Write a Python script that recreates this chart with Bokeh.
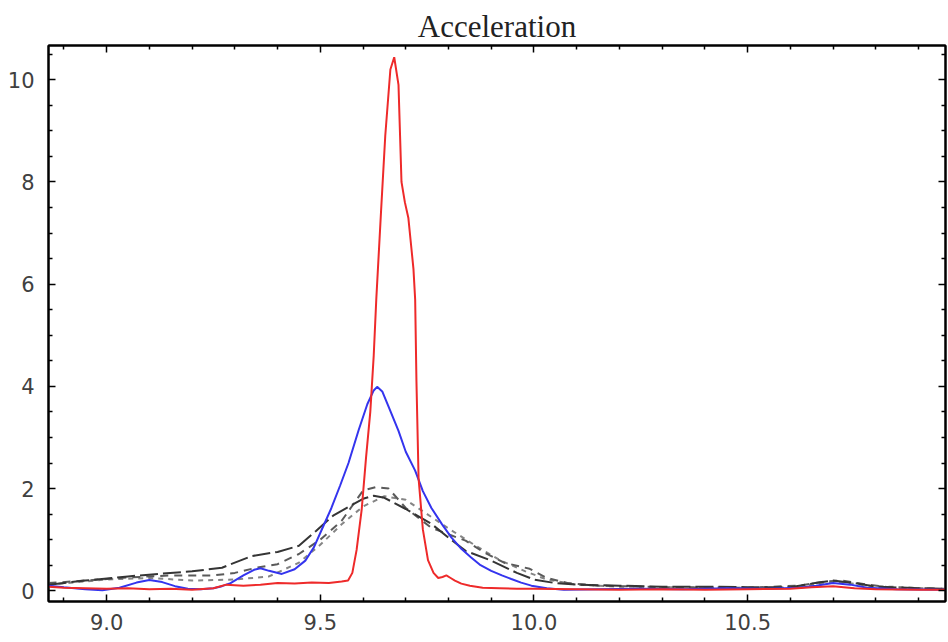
from bokeh.plotting import figure
from bokeh.models import LinearAxis, FixedTicker, Range1d
from bokeh.embed import file_html
from bokeh.resources import INLINE

# ---- data ----
x_ticks = [9.0, 9.5, 10.0, 10.5]
x_tick_labels = ["9.0", "9.5", "10.0", "10.5"]
x_minor = [8.9, 9.1, 9.2, 9.3, 9.4, 9.6, 9.7, 9.8, 9.9, 10.1, 10.2, 10.3, 10.4, 10.6, 10.7, 10.8, 10.9]
y_ticks = [0, 2, 4, 6, 8, 10]
y_tick_labels = ["0", "2", "4", "6", "8", "10"]
y_minor = [-0.5, 0.5, 1, 1.5, 2.5, 3, 3.5, 4.5, 5, 5.5, 6.5, 7, 7.5, 8.5, 9, 9.5, 10.5]

red_x = [8.864, 8.9, 8.95, 9.0, 9.05, 9.1, 9.15, 9.2, 9.25, 9.28, 9.32, 9.36, 9.4, 9.44, 9.48,
         9.52, 9.55, 9.565, 9.575, 9.585, 9.597, 9.607, 9.617, 9.625, 9.631, 9.642, 9.652,
         9.664, 9.673, 9.683, 9.69, 9.698, 9.706, 9.712, 9.718, 9.722, 9.725, 9.73, 9.74,
         9.752, 9.765, 9.776, 9.786, 9.795, 9.805, 9.815, 9.83, 9.85, 9.88, 9.92, 9.96, 10.0,
         10.1, 10.2, 10.3, 10.4, 10.5, 10.6, 10.65, 10.7, 10.75, 10.8, 10.9, 10.963]
red_y = [0.08, 0.06, 0.05, 0.04, 0.05, 0.03, 0.04, 0.02, 0.05, 0.12, 0.1, 0.12, 0.15, 0.14, 0.16,
         0.15, 0.18, 0.2, 0.35, 0.8, 1.6, 2.6, 3.5, 4.6, 5.7, 7.4, 8.9,
         10.2, 10.44, 9.9, 8.0, 7.6, 7.3, 6.8, 6.3, 5.7, 4.1, 2.2, 1.2,
         0.6, 0.35, 0.25, 0.27, 0.3, 0.25, 0.2, 0.14, 0.1, 0.06, 0.05, 0.04, 0.04,
         0.03, 0.02, 0.03, 0.02, 0.03, 0.04, 0.07, 0.09, 0.05, 0.03, 0.02, 0.02]

blue_x = [8.864, 8.9, 8.95, 8.99, 9.03, 9.07, 9.1, 9.13, 9.16, 9.19, 9.22, 9.25, 9.27, 9.29,
          9.32, 9.345, 9.36, 9.38, 9.41, 9.44, 9.465, 9.485, 9.502, 9.526, 9.546, 9.566, 9.59,
          9.61, 9.625, 9.633, 9.645, 9.66, 9.683, 9.7, 9.722, 9.74, 9.76, 9.785, 9.807, 9.83,
          9.853, 9.875, 9.9, 9.925, 9.947, 9.97, 9.994, 10.03, 10.07, 10.15, 10.25, 10.35,
          10.45, 10.55, 10.62, 10.66, 10.7, 10.74, 10.78, 10.85, 10.963]
blue_y = [0.1, 0.07, 0.03, 0.01, 0.06, 0.16, 0.21, 0.17, 0.09, 0.04, 0.03, 0.05, 0.09, 0.15,
          0.3, 0.41, 0.44, 0.39, 0.33, 0.42, 0.59, 0.85, 1.17, 1.62, 2.05, 2.5, 3.15,
          3.65, 3.92, 3.99, 3.9, 3.6, 3.13, 2.72, 2.35, 1.95, 1.62, 1.3, 1.04, 0.82,
          0.65, 0.5, 0.39, 0.3, 0.23, 0.16, 0.1, 0.05, 0.02, 0.03, 0.04, 0.03,
          0.05, 0.04, 0.06, 0.1, 0.15, 0.12, 0.06, 0.03, 0.02]

dark_x = [8.864, 8.95, 9.05, 9.12, 9.2, 9.27, 9.3, 9.34, 9.4, 9.45, 9.49, 9.53, 9.57, 9.6,
          9.625, 9.65, 9.7, 9.76, 9.8, 9.84, 9.9, 9.96, 10.0, 10.05, 10.1, 10.2, 10.3, 10.4,
          10.5, 10.6, 10.65, 10.7, 10.75, 10.8, 10.9, 10.963]
dark_y = [0.12, 0.2, 0.28, 0.33, 0.38, 0.45, 0.55, 0.68, 0.76, 0.88, 1.17, 1.47, 1.66, 1.8,
          1.86, 1.82, 1.6, 1.31, 1.04, 0.78, 0.59, 0.35, 0.22, 0.15, 0.12, 0.1, 0.08, 0.08,
          0.07, 0.07, 0.14, 0.2, 0.15, 0.08, 0.05, 0.04]

mid_x = [8.864, 8.95, 9.05, 9.15, 9.25, 9.3, 9.35, 9.4, 9.45, 9.5, 9.55, 9.6, 9.63, 9.66, 9.7,
         9.76, 9.84, 9.89, 9.93, 9.99, 10.03, 10.08, 10.15, 10.3, 10.5, 10.62, 10.68, 10.72,
         10.78, 10.85, 10.963]
mid_y = [0.15, 0.2, 0.26, 0.3, 0.3, 0.35, 0.45, 0.52, 0.72, 1.0, 1.37, 1.96, 2.03, 2.0, 1.62,
         1.23, 0.98, 0.72, 0.55, 0.43, 0.25, 0.15, 0.1, 0.07, 0.06, 0.1, 0.18, 0.2,
         0.12, 0.05, 0.04]

light_x = [8.864, 9.0, 9.1, 9.2, 9.3, 9.38, 9.45, 9.5, 9.55, 9.6, 9.65, 9.7, 9.75, 9.8, 9.86,
           9.92, 9.98, 10.03, 10.1, 10.2, 10.4, 10.6, 10.68, 10.72, 10.78, 10.963]
light_y = [0.12, 0.22, 0.25, 0.2, 0.22, 0.28, 0.55, 0.9, 1.3, 1.65, 1.85, 1.78, 1.5, 1.22, 0.9,
           0.6, 0.38, 0.22, 0.12, 0.08, 0.06, 0.06, 0.15, 0.17, 0.1, 0.03]

# ---- figure ----
p = figure(width=948, height=642, output_backend="svg", toolbar_location=None,
           x_range=Range1d(8.864, 10.963), y_range=Range1d(-0.21, 10.67),
           min_border_left=48, min_border_right=3, min_border_top=45, min_border_bottom=41,
           title="Acceleration")
p.xgrid.visible = False
p.ygrid.visible = False
p.outline_line_color = "black"
p.outline_line_width = 2
p.background_fill_color = "white"
p.border_fill_color = "white"

p.title.text_font = "Liberation Serif"
p.title.text_font_size = "31px"
p.title.text_font_style = "normal"
p.title.text_color = "#222222"
p.title.align = "center"
p.title.standoff = 4

xt = FixedTicker(ticks=x_ticks, minor_ticks=x_minor)
yt = FixedTicker(ticks=y_ticks, minor_ticks=y_minor)

top = LinearAxis(ticker=xt)
right = LinearAxis(ticker=yt)
p.add_layout(top, "above")
p.add_layout(right, "right")

for ax in p.xaxis:
    ax.ticker = xt
for ax in p.yaxis:
    ax.ticker = yt

for ax in list(p.xaxis) + list(p.yaxis):
    ax.axis_line_color = "black"
    ax.axis_line_width = 2
    ax.major_tick_in = 7
    ax.major_tick_out = 0
    ax.minor_tick_in = 4
    ax.minor_tick_out = 0
    ax.major_tick_line_color = "black"
    ax.major_tick_line_width = 1.5
    ax.minor_tick_line_color = "black"
    ax.minor_tick_line_width = 1.5
    ax.major_label_text_font = "DejaVu Sans"
    ax.major_label_text_font_size = "21px"
    ax.major_label_text_color = "#404040"

p.below[0].major_label_overrides = dict(zip(x_ticks, x_tick_labels))
p.below[0].major_label_standoff = 12
p.left[0].major_label_overrides = dict(zip(y_ticks, y_tick_labels))
p.left[0].major_label_standoff = 14

for ax in (top, right):
    ax.major_label_text_font_size = "0px"
    ax.major_label_standoff = 0
    ax.major_label_overrides = {t: "" for t in (x_ticks if ax is top else y_ticks)}

p.line(light_x, light_y, line_color="#858585", line_width=2, line_dash="5 5")
p.line(mid_x, mid_y, line_color="#5a5a5a", line_width=2, line_dash="8 6")
p.line(dark_x, dark_y, line_color="#353535", line_width=2, line_dash="18 5")
p.line(blue_x, blue_y, line_color="#3434ee", line_width=2)
p.line(red_x, red_y, line_color="#ee2a2a", line_width=2)

open("out.html", "w").write(file_html(p, INLINE))
